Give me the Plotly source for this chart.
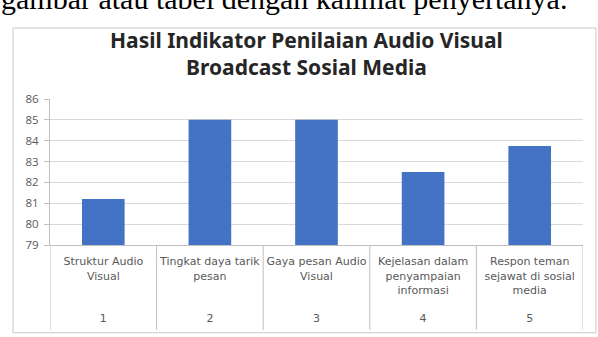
import plotly.graph_objects as go

categories = ["Struktur Audio<br>Visual", "Tingkat daya tarik<br>pesan", "Gaya pesan Audio<br>Visual",
              "Kejelasan dalam<br>penyampaian<br>informasi", "Respon teman<br>sejawat di sosial<br>media"]
numbers = ["1", "2", "3", "4", "5"]
values = [81.2, 85.0, 85.0, 82.5, 83.75]
y_ticks = [79, 80, 81, 82, 83, 84, 85, 86]

W, H = 598, 337
L, R, T, B = 50, 15, 99, 90
pw, ph = W - L - R, H - T - B

def px_x(p):
    return (p - L) / pw

def px_y(p):
    return (H - B - p) / ph

ticktext = []
for c, n in zip(categories, numbers):
    nlines = c.count("<br>") + 1
    ticktext.append(c + "<br>" * (5 - nlines) + n)

xs = list(range(len(values)))

fig = go.Figure(go.Bar(x=xs, y=values, width=0.4,
                       marker=dict(color="#4472C4", line=dict(width=0))))

shapes = []
# chart box
shapes.append(dict(type="rect", xref="paper", yref="paper",
                   x0=px_x(13), x1=px_x(596), y0=px_y(336), y1=px_y(27),
                   line=dict(color="#c8c8c8", width=1), fillcolor="rgba(0,0,0,0)", layer="below"))
# category dividers
for i in range(len(values) + 1):
    shapes.append(dict(type="line", xref="x", yref="paper", x0=i - 0.5, x1=i - 0.5,
                       y0=px_y(333), y1=0, line=dict(color="#bfbfbf", width=1)))

fig.update_layout(
    width=W, height=H,
    margin=dict(l=L, r=R, t=T, b=B),
    paper_bgcolor="white", plot_bgcolor="white",
    showlegend=False,
    shapes=shapes,
    xaxis=dict(range=[-0.5, len(values) - 0.5], tickvals=xs, ticktext=ticktext,
               tickfont=dict(family="DejaVu Sans", size=11, color="#595959"),
               showgrid=False, showline=True, linecolor="#bfbfbf", ticks="",
               zeroline=False, ticklabelstandoff=6),
    yaxis=dict(range=[y_ticks[0], y_ticks[-1]], tickvals=y_ticks,
               tickfont=dict(family="Open Sans", size=11.5, color="#595959"),
               showgrid=True, gridcolor="#d9d9d9", gridwidth=1,
               showline=True, linecolor="#bfbfbf", zeroline=False,
               ticks="outside", ticklen=5, tickcolor="#bfbfbf", ticklabelstandoff=3),
    annotations=[
        dict(text="<b>Hasil Indikator Penilaian Audio Visual<br>Broadcast Sosial Media</b>",
             xref="paper", yref="paper", x=px_x(306), y=px_y(53), xanchor="center", yanchor="middle",
             showarrow=False, font=dict(family="Noto Sans", size=21, color="#262626")),
        dict(text="gambar atau tabel dengan kalimat penyertanya.",
             xref="paper", yref="paper", x=px_x(-1), y=px_y(16), xanchor="left", yanchor="bottom",
             showarrow=False, font=dict(family="Liberation Serif", size=30, color="black")),
    ],
)
fig.write_html("out.html")
